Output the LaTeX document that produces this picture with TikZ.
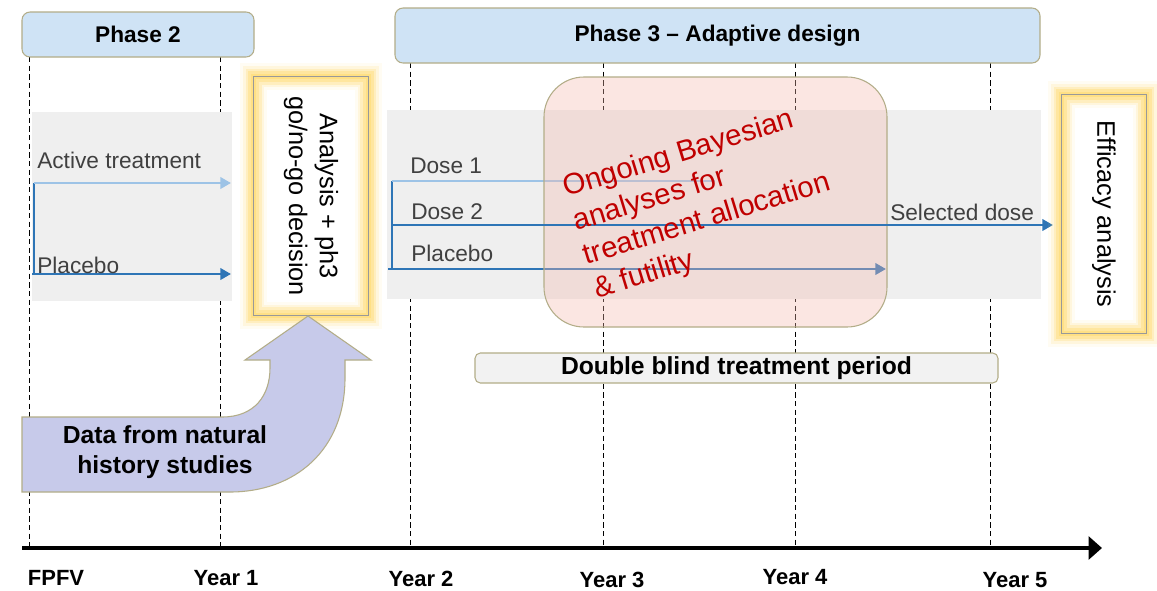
\documentclass[tikz,border=0pt]{standalone}
\usepackage{fontspec}
\setmainfont{Liberation Sans}
\usetikzlibrary{arrows.meta}
\definecolor{phasefill}{HTML}{CFE3F5}
\definecolor{khaki}{HTML}{B3AD88}
\definecolor{panelgray}{HTML}{EFEFEF}
\definecolor{lightarm}{HTML}{9DC3E6}
\definecolor{darkarm}{HTML}{2E75B6}
\definecolor{glowgold}{HTML}{FFD966}
\definecolor{pinkfill}{HTML}{F4B9AE}
\definecolor{bayesred}{HTML}{C00000}
\definecolor{lavender}{HTML}{C7CAEA}
\definecolor{blindfill}{HTML}{F2F2F2}
\begin{document}
\begin{tikzpicture}[x=0.75pt,y=-0.75pt]
  \tikzstyle{phasebox}=[draw=khaki,fill=phasefill,rounded corners=6pt,line width=0.8pt,font=\fontsize{17}{20}\selectfont\bfseries]
  \tikzstyle{yeargrid}=[black,line width=0.7pt,dash pattern=on 4pt off 2.5pt]
  \tikzstyle{yearlabel}=[font=\fontsize{16.5}{19}\selectfont\bfseries]
  \tikzstyle{armlabel}=[anchor=west,inner sep=0pt,text=black!75,font=\fontsize{17}{20}\selectfont]
  \tikzstyle{arm}=[line width=2pt,-{Triangle[length=8pt,width=8.5pt]}]
  \tikzstyle{glowbox}=[fill=white,rotate=-90,align=center,inner sep=0pt,font=\fontsize{19}{23}\selectfont]

  \useasboundingbox (0,0) rectangle (1157,590);
  \fill[white] (0,0) rectangle (1157,590);

  % time grid
  \foreach \x/\y in {29/57,220/57,410/63,603/63,795/63,990/63}
    \draw[yeargrid] (\x,\y) -- (\x,548);

  % phase headers
  \node[phasebox,minimum width=174pt,minimum height=33.75pt] (ph2) at (138,34.5) {Phase 2};
  \node[phasebox,minimum width=483.75pt,minimum height=41.25pt] (ph3) at (717.5,35.5) {Phase 3 -- Adaptive design};

  % treatment panels
  \fill[panelgray] (32,112) rectangle (232,301);
  \fill[panelgray] (387,110) rectangle (1041,299);

  % phase 2 arms
  \coordinate (actS) at (34,183);
  \coordinate (actE) at (231,183);
  \coordinate (plaS) at (32,274);
  \coordinate (plaE) at (231,274);
  \draw[darkarm,line width=1.3pt] (actS) -- (actS |- plaS);
  \draw[arm,lightarm] (actS) -- (actE);
  \draw[arm,darkarm] (plaS) -- (plaE);
  \node[armlabel] (actL) at (37,160) {Active treatment};
  \node[armlabel] (plaL) at (37,265) {Placebo};

  % phase 3 arms
  \coordinate (doseS) at (392,181);
  \coordinate (doseE) at (715,181);
  \coordinate (selS) at (392,225);
  \coordinate (selE) at (1053,225);
  \coordinate (pl3S) at (388,269);
  \coordinate (pl3E) at (886,269);
  \draw[darkarm,line width=1.3pt] (doseS) -- (doseS |- pl3S);
  \draw[lightarm,line width=2pt] (doseS) -- (doseE);
  \draw[arm,darkarm] (pl3S) -- (pl3E);
  \node[armlabel] (d1L) at (410,166) {Dose 1};
  \node[armlabel] (d2L) at (411,212) {Dose 2};
  \node[armlabel] (p3L) at (411,253) {Placebo};

  % bayesian window
  \node[draw=khaki,line width=0.8pt,fill=pinkfill,fill opacity=0.35,rounded corners=30pt,
        minimum width=257.25pt,minimum height=187.5pt] (bayes) at (715.5,202) {};
  \draw[arm,darkarm] (selS) -- (selE);
  \node[armlabel] (selL) at (890,212) {Selected dose};
  \node[rotate=17,align=left,text=bayesred,inner sep=0pt,font=\fontsize{22}{26.5}\selectfont] (bayesL) at (702,203)
    {Ongoing Bayesian\\analyses for\\treatment allocation\\\& futility};

  % decision boxes
  \node[glowbox,minimum width=178.5pt,minimum height=85.5pt] (ana) at (311,196) {Analysis + ph3\\go/no-go decision};
  \node[glowbox,minimum width=178.5pt,minimum height=63pt] (eff) at (1104,214) {Efficacy analysis};
  \foreach \n in {ana,eff} {
    \foreach \lw/\op in {20/0.08,16/0.15,12/0.25,8/0.35,4/0.45}
      \draw[glowgold,line width=\lw pt,opacity=\op] (\n.north west) rectangle (\n.south east);
    \draw[black!40,line width=0.8pt] (\n.north west) rectangle (\n.south east);
  }

  % natural history data
  \filldraw[fill=lavender,draw=khaki,line width=0.8pt]
    (22,417) -- (222,417) .. controls (255,417) and (270,395) .. (270,368) -- (270,360)
    -- (245,360) -- (308,316) -- (371,360) -- (345,360) -- (345,378)
    .. controls (345,450) and (295,492) .. (230,492) -- (22,492) -- cycle;
  \node[align=center,font=\fontsize{18.5}{22.5}\selectfont\bfseries] (hist) at (165,452) {Data from natural\\history studies};

  \node[draw=khaki,line width=0.8pt,fill=blindfill,rounded corners=4pt,inner sep=0pt,
        minimum width=392.25pt,minimum height=22.5pt,font=\fontsize{18.5}{22}\selectfont\bfseries] (blind) at (736.5,368)
    {Double blind treatment period};

  % time axis
  \coordinate (t0) at (22,548);
  \coordinate (tend) at (1102,548);
  \draw[line width=3pt,-{Triangle[length=10pt,width=17pt]}] (t0) -- (tend);
  \node[yearlabel] (fpfv) at (56,578) {FPFV};
  \node[yearlabel] (y1) at (226,578) {Year 1};
  \node[yearlabel] (y2) at (421,579) {Year 2};
  \node[yearlabel] (y3) at (612,580) {Year 3};
  \node[yearlabel] (y4) at (795,577) {Year 4};
  \node[yearlabel] (y5) at (1015,580) {Year 5};
\end{tikzpicture}
\end{document}
